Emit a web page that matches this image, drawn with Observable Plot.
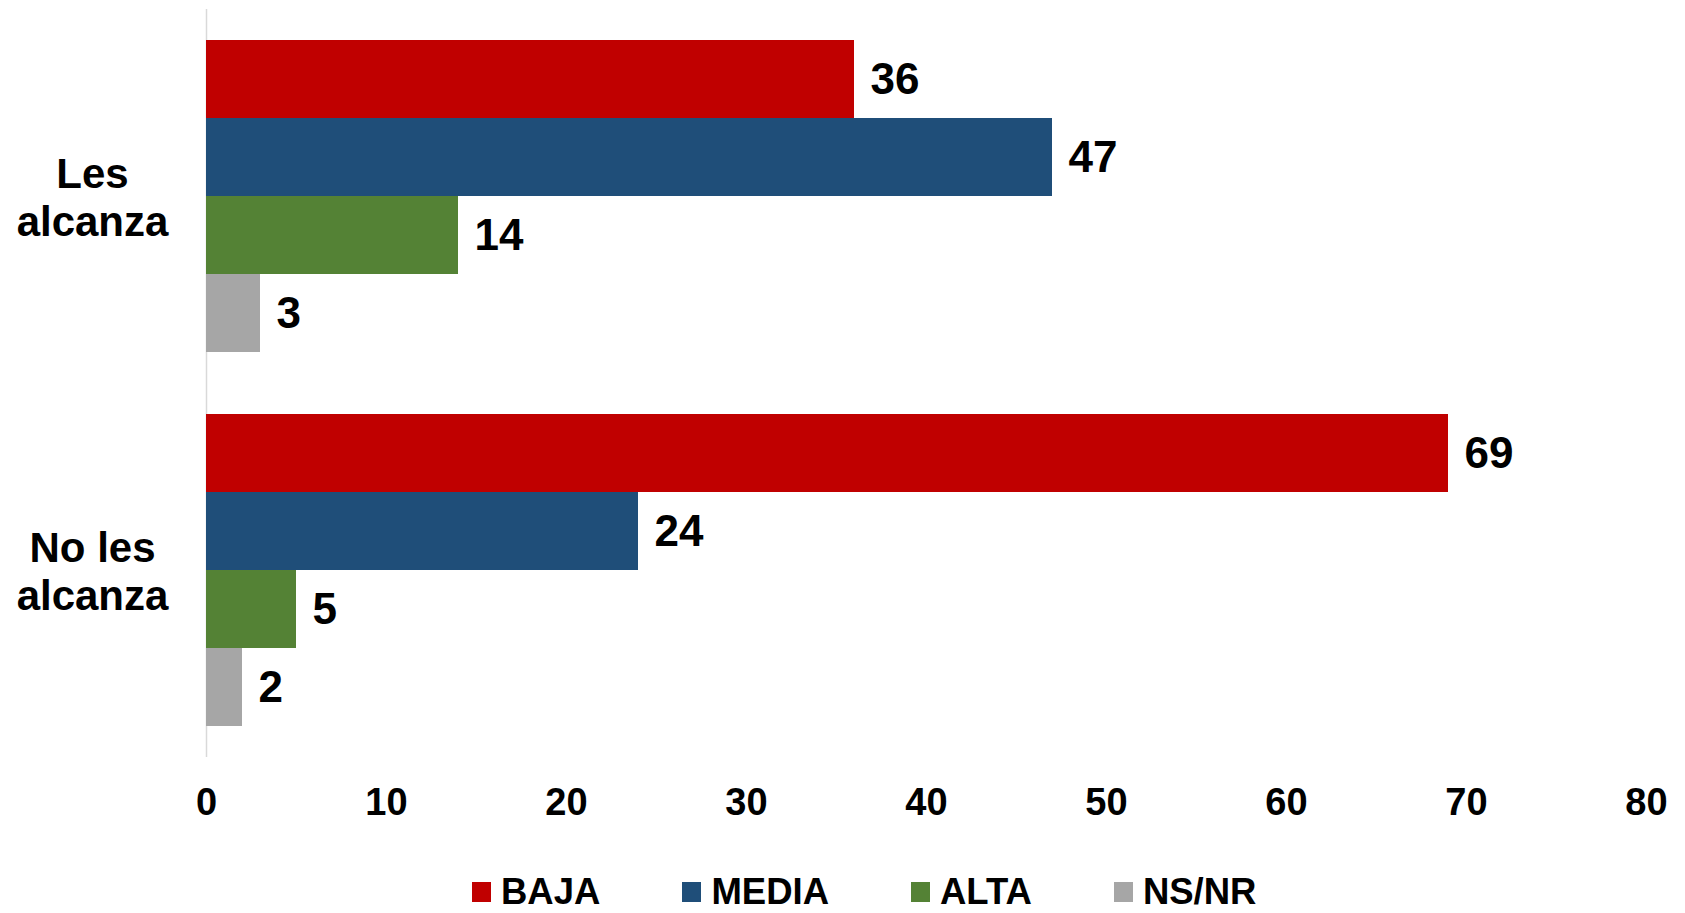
<!DOCTYPE html>
<html>
<head>
<meta charset="utf-8">
<script src="https://cdn.jsdelivr.net/npm/d3@7"></script>
<script src="https://cdn.jsdelivr.net/npm/@observablehq/plot@0.6"></script>
<style>
  html, body { margin: 0; padding: 0; background: #fff; }
  body { width: 1685px; height: 913px; position: relative; overflow: hidden; font-family: "Liberation Sans", Arial, sans-serif; }
  #legend { position: absolute; top: 873px; left: 472px; display: flex; align-items: center; font-size: 36.5px; line-height: 37px; font-weight: bold; color: #000; white-space: nowrap; }
  #legend .item { display: flex; align-items: center; margin-right: 82px; }
  #legend .sw { width: 19px; height: 20px; margin-right: 10px; }
</style>
</head>
<body>
<div id="chart"></div>
<div id="legend"></div>
<script>
const groups = ["Les alcanza", "No les alcanza"];
const groupLabels = ["Les\nalcanza", "No les\nalcanza"];
const series = ["BAJA", "MEDIA", "ALTA", "NS/NR"];
const colors = ["#C00000", "#1F4E79", "#548235", "#A6A6A6"];
const lesAlcanza = [36, 47, 14, 3];
const noLesAlcanza = [69, 24, 5, 2];
const xTicks = [0, 10, 20, 30, 40, 50, 60, 70, 80];

const valuesByGroup = [lesAlcanza, noLesAlcanza];
const rows = [];
groups.forEach((g, gi) => series.forEach((s, si) => rows.push({group: g, series: s, value: valuesByGroup[gi][si]})));

const chart = Plot.plot({
  width: 1685,
  height: 840,
  marginTop: 9,
  marginBottom: 83,
  marginLeft: 206,
  marginRight: 39,
  x: {domain: [0, 80], label: null},
  y: {domain: series, paddingInner: 0, paddingOuter: 0.37, axis: null},
  fy: {domain: groups, padding: 0, axis: null},
  color: {domain: series, range: colors},
  style: {fontFamily: '"Liberation Sans", Arial, sans-serif', color: "black", background: "white"},
  marks: [
    Plot.ruleX([0], {stroke: "#d9d9d9", strokeWidth: 1.5}),
    Plot.barX(rows, {x: "value", y: "series", fy: "group", fill: "series"}),
    Plot.text(rows, {x: "value", y: "series", fy: "group", text: d => String(d.value), textAnchor: "start", dx: 16, fontSize: 44, fontWeight: "bold", fill: "black"}),
    Plot.text(groups, {fy: d => d, text: (d, i) => groupLabels[i], frameAnchor: "left", dx: -114, textAnchor: "middle", lineHeight: 1.143, fontSize: 42, fontWeight: "bold", fill: "black"}),
    Plot.axisX({ticks: xTicks, tickSize: 0, tickPadding: 31, fontSize: 38, fontWeight: "bold", fill: "black", label: null})
  ]
});
document.getElementById("chart").appendChild(chart);

const legend = document.getElementById("legend");
series.forEach((s, i) => {
  const item = document.createElement("div");
  item.className = "item";
  const sw = document.createElement("span");
  sw.className = "sw";
  sw.style.background = colors[i];
  const label = document.createElement("span");
  label.textContent = s;
  item.appendChild(sw);
  item.appendChild(label);
  legend.appendChild(item);
});
</script>
</body>
</html>
